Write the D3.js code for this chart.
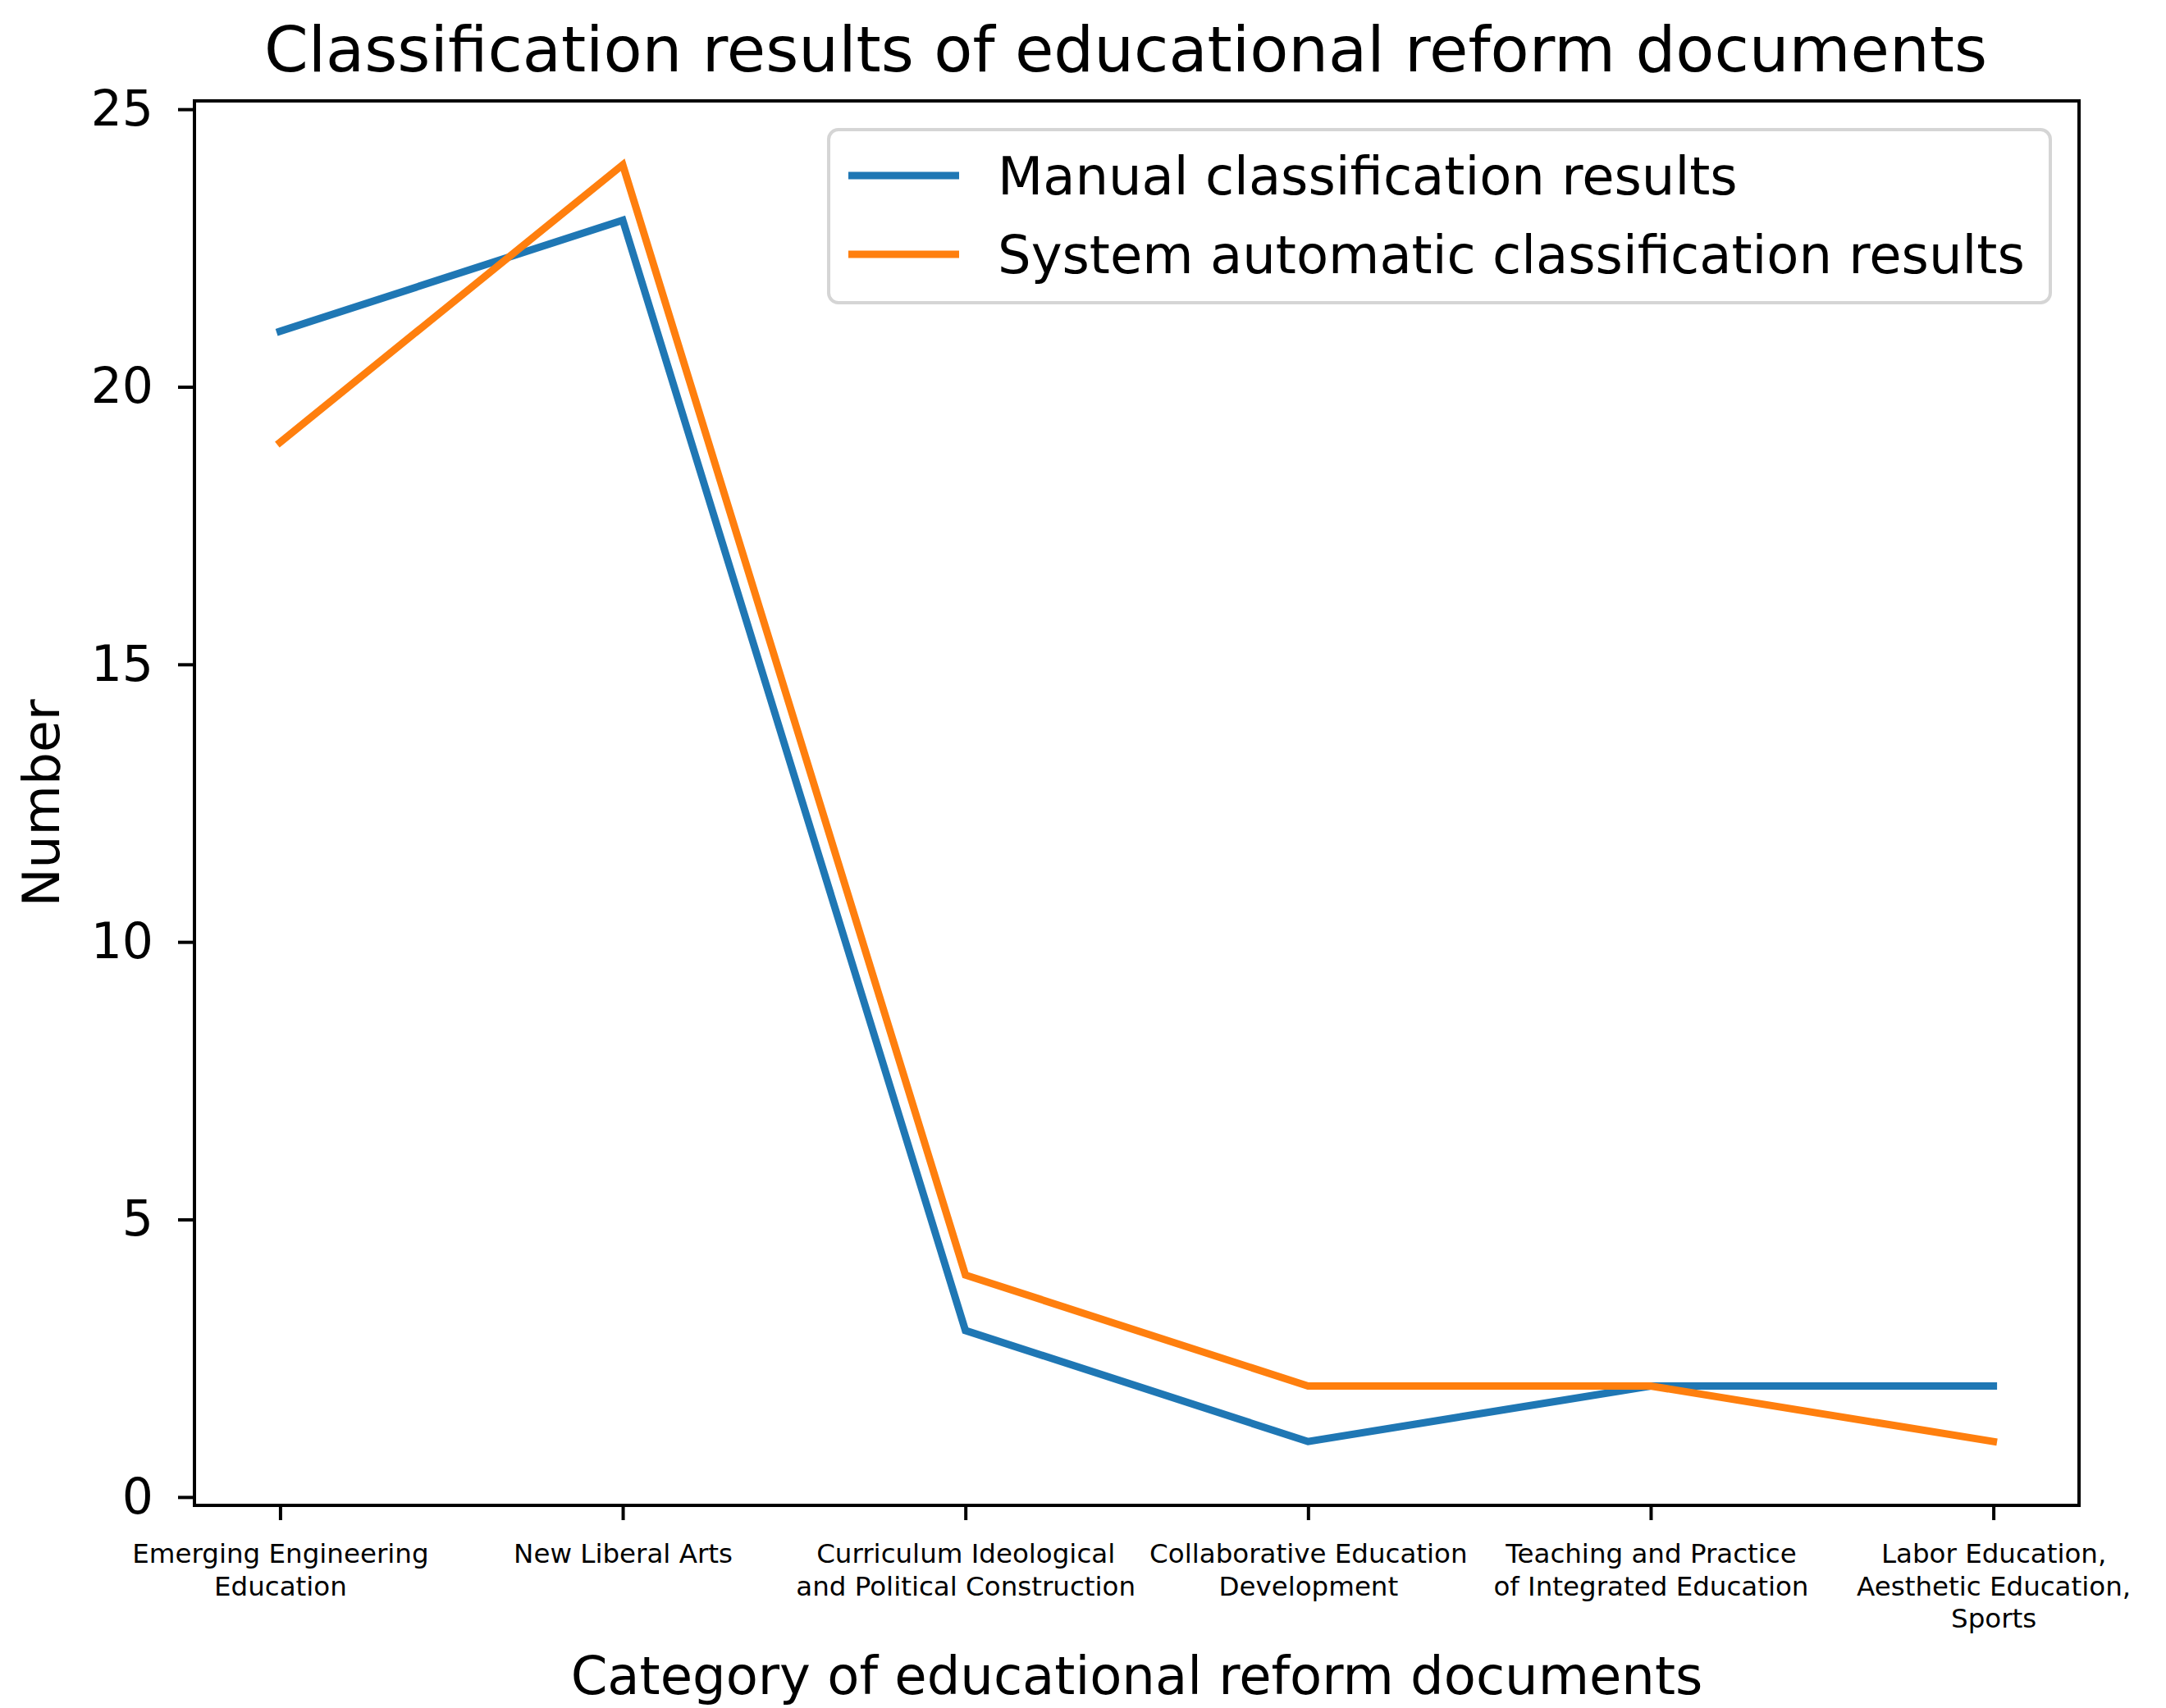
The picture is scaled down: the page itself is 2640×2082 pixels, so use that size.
<!DOCTYPE html>
<html>
<head>
<meta charset="utf-8">
<script src="https://cdn.jsdelivr.net/npm/d3@7"></script>
<style>
	body { margin: 0; background: #fff; }
	text { font-family: "DejaVu Sans", sans-serif; fill: #000; }
</style>
</head>
<body>
<div id="chart"></div>
<script>
// categories (line breaks as in the picture)
const categories = [
	"Emerging Engineering\nEducation",
	"New Liberal Arts",
	"Curriculum Ideological\nand Political Construction",
	"Collaborative Education\nDevelopment",
	"Teaching and Practice\nof Integrated Education",
	"Labor Education,\nAesthetic Education,\nSports"
];
const manualValues = [21, 23, 3, 1, 2, 2];
const systemValues = [19, 24, 4, 2, 2, 1];
const seriesNames = ["Manual classification results", "System automatic classification results"];
const yTicks = [0, 5, 10, 15, 20, 25];

const W = 2640, H = 2082;
const margin = { top: 123, right: 106, bottom: 247, left: 237 };
const colors = ["#1f77b4", "#ff7f0e"];

const svg = d3.select("#chart")
	.append("svg")
	.attr("width", W)
	.attr("height", H);

// matplotlib style limits with 5% margins
const x = d3.scaleLinear()
	.domain([-0.25, categories.length - 1 + 0.25])
	.range([margin.left, W - margin.right]);
const y = d3.scaleLinear()
	.domain([-0.15, 25.15])
	.range([H - margin.bottom, margin.top]);

// y axis
const yAxis = svg.append("g")
	.attr("transform", `translate(${margin.left},0)`)
	.call(d3.axisLeft(y).tickValues(yTicks).tickSize(20).tickPadding(30));
yAxis.select(".domain").remove();
yAxis.selectAll(".tick line").attr("stroke", "#000").attr("stroke-width", 4);
yAxis.selectAll(".tick text")
	.style("font-size", "60px")
	.attr("fill", "#000");

// x axis
const xAxis = svg.append("g")
	.attr("transform", `translate(0,${H - margin.bottom})`)
	.call(d3.axisBottom(x).tickValues(d3.range(categories.length)).tickSize(18).tickFormat(""));
xAxis.select(".domain").remove();
xAxis.selectAll(".tick line").attr("stroke", "#000").attr("stroke-width", 4);
xAxis.selectAll(".tick").each(function (d) {
	const t = d3.select(this).append("text")
		.attr("text-anchor", "middle")
		.attr("y", 70)
		.style("font-size", "32.5px");
	categories[d].split("\n").forEach((line, i) => {
		t.append("tspan").attr("x", 0).attr("dy", i === 0 ? 0 : 39.5).text(line);
	});
});

// lines
const line = d3.line()
	.x((d, i) => x(i))
	.y(d => y(d));

[manualValues, systemValues].forEach((vals, k) => {
	svg.append("path")
		.datum(vals)
		.attr("fill", "none")
		.attr("stroke", colors[k])
		.attr("stroke-width", 9)
		.attr("stroke-linejoin", "miter")
		.attr("stroke-linecap", "square")
		.attr("d", line);
});

// frame
svg.append("rect")
	.attr("x", margin.left)
	.attr("y", margin.top)
	.attr("width", W - margin.left - margin.right)
	.attr("height", H - margin.top - margin.bottom)
	.attr("fill", "none")
	.attr("stroke", "#000")
	.attr("stroke-width", 4);

// title and axis labels
const cx = (margin.left + W - margin.right) / 2;
svg.append("text")
	.attr("x", 1372).attr("y", 87)
	.attr("text-anchor", "middle")
	.style("font-size", "77px")
	.text("Classification results of educational reform documents");

svg.append("text")
	.attr("x", cx).attr("y", 2065)
	.attr("text-anchor", "middle")
	.style("font-size", "64px")
	.text("Category of educational reform documents");

svg.append("text")
	.attr("transform", `translate(72,${(margin.top + H - margin.bottom) / 2}) rotate(-90)`)
	.attr("text-anchor", "middle")
	.style("font-size", "63px")
	.text("Number");

// legend
const legend = svg.append("g").attr("transform", "translate(1010,158)");
legend.append("rect")
	.attr("width", 1489).attr("height", 211)
	.attr("rx", 12)
	.attr("fill", "#fff").attr("fill-opacity", 0.8)
	.attr("stroke", "#d5d5d5").attr("stroke-width", 4);
seriesNames.forEach((name, i) => {
	const gy = 56 + i * 96;
	legend.append("line")
		.attr("x1", 24).attr("x2", 159)
		.attr("y1", gy).attr("y2", gy)
		.attr("stroke", colors[i]).attr("stroke-width", 9);
	legend.append("text")
		.attr("x", 206).attr("y", gy + 23)
		.style("font-size", "64px")
		.text(name);
});
</script>
</body>
</html>
